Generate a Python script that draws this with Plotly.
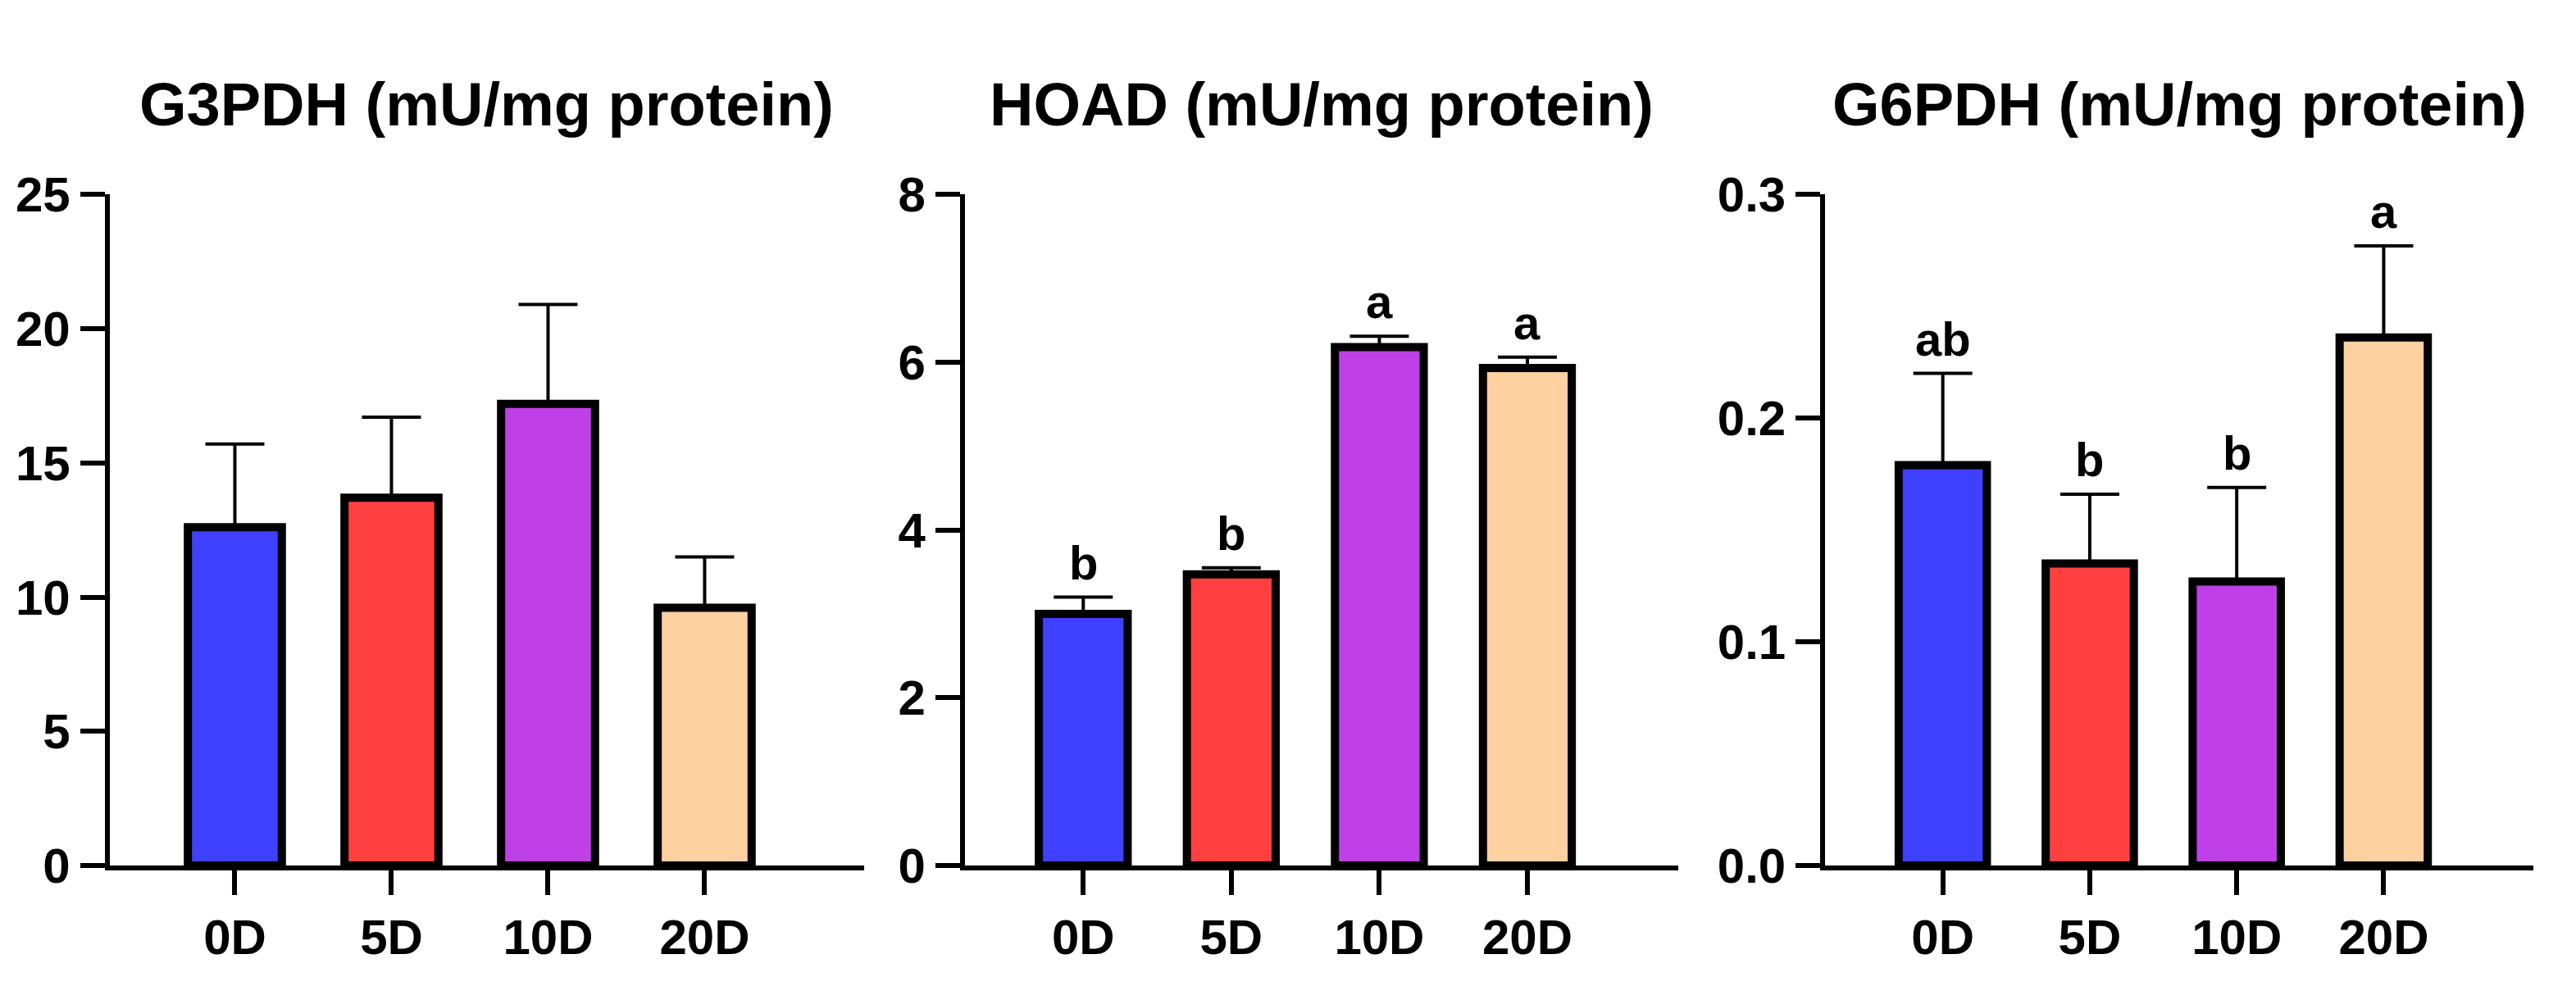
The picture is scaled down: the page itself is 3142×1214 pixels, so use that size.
import plotly.graph_objects as go

cats = ["0D", "5D", "10D", "20D"]
colors = ["#4040FF", "#FF4040", "#C040E8", "#FFD0A0"]
titles = ["G3PDH (mU/mg protein)", "HOAD (mU/mg protein)", "G6PDH (mU/mg protein)"]
g3pdh = [12.6, 13.7, 17.2, 9.6]
g3pdh_err = [3.1, 3.0, 3.7, 1.9]
hoad = [3.0, 3.47, 6.18, 5.93]
hoad_err = [0.2, 0.08, 0.13, 0.13]
g6pdh = [0.179, 0.135, 0.127, 0.236]
g6pdh_err = [0.041, 0.031, 0.042, 0.041]
letters_hoad = ["b", "b", "a", "a"]
letters_g6pdh = ["ab", "b", "b", "a"]
ranges = [[0, 25], [0, 8], [0, 0.3]]
dtick = [5, 2, 0.1]
tickfmt = ["d", "d", ".1f"]
domains = [[0.040, 0.333], [0.372, 0.649], [0.706, 0.981]]

vals = [g3pdh, hoad, g6pdh]
errs = [g3pdh_err, hoad_err, g6pdh_err]
letters = [None, letters_hoad, letters_g6pdh]

font = "Liberation Sans"
tf = dict(family=font, size=60, color="black", weight="bold")
fig = go.Figure()
ann = []
for i in range(3):
    xa = "x" if i == 0 else f"x{i+1}"
    ya = "y" if i == 0 else f"y{i+1}"
    fig.add_trace(go.Bar(
        x=cats, y=vals[i], xaxis=xa, yaxis=ya, width=0.6,
        marker=dict(color=colors, line=dict(color="black", width=10)),
        error_y=dict(type="data", array=errs[i], arrayminus=[0]*4, symmetric=False,
                     color="black", thickness=4, width=36),
        showlegend=False))
    lay = dict(domain=domains[i], anchor=ya, range=[-0.8, 4.02], showline=True,
               linecolor="black", linewidth=6, ticks="outside", ticklen=30, tickwidth=6,
               tickcolor="black", tickfont=tf,
               showgrid=False, zeroline=False, fixedrange=True)
    ylay = dict(domain=[0.115, 0.829], anchor=xa, range=ranges[i], dtick=dtick[i],
                tickformat=tickfmt[i], showline=True, linecolor="black", linewidth=6,
                ticks="outside", ticklen=30, tickwidth=6, tickcolor="black",
                tickfont=tf, showgrid=False, zeroline=False)
    fig.layout[f"xaxis{'' if i == 0 else i+1}"] = lay
    fig.layout[f"yaxis{'' if i == 0 else i+1}"] = ylay
    ann.append(dict(text=f"<b>{titles[i]}</b>", xref="paper", yref="paper",
                    x=(domains[i][0] + domains[i][1]) / 2, y=0.925, xanchor="center",
                    yanchor="middle", showarrow=False,
                    font=dict(family=font, size=74, color="black")))
    if letters[i]:
        for c, v, e, t in zip(cats, vals[i], errs[i], letters[i]):
            ann.append(dict(text=f"<b>{t}</b>", x=c, y=v + e, xref=xa, yref=ya,
                            showarrow=False, yanchor="bottom", xanchor="center", yshift=8,
                            font=dict(family=font, size=58, color="black")))

fig.update_layout(width=3142, height=1214, margin=dict(l=0, r=0, t=0, b=0),
                  plot_bgcolor="white", paper_bgcolor="white", annotations=ann)
fig.write_html("out.html")
